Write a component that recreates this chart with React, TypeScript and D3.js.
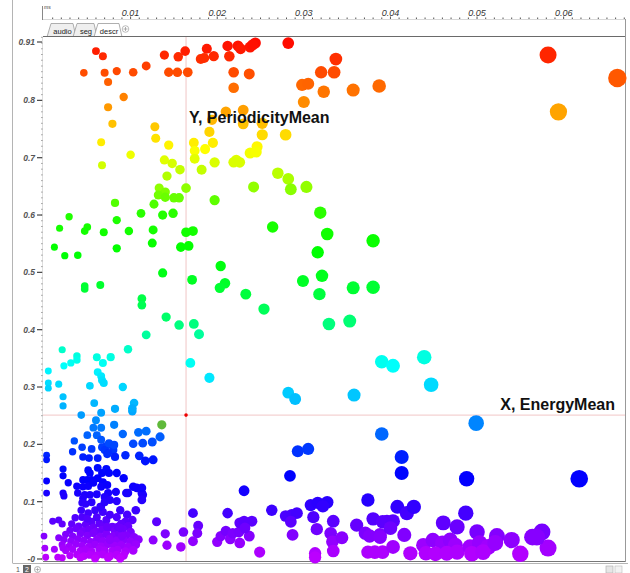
import React, { useRef, useEffect } from 'react';
import * as d3 from 'd3';

type Pt = [number, number];

// x = EnergyMean, y = PeriodicityMean
const redPoints: Pt[] = [
  [0.0060, 0.886], [0.0068, 0.877], [0.0046, 0.848], [0.0070, 0.848], [0.0084, 0.851], [0.0074, 0.832],
  [0.0074, 0.788], [0.0092, 0.806], [0.0079, 0.759], [0.0103, 0.849], [0.0118, 0.860],
  [0.0139, 0.879], [0.0155, 0.876], [0.0163, 0.886], [0.0144, 0.849], [0.0154, 0.849], [0.0166, 0.849],
  [0.0181, 0.872], [0.0188, 0.890], [0.0196, 0.877], [0.0185, 0.874],
  [0.0212, 0.895], [0.0214, 0.877], [0.0224, 0.895], [0.0227, 0.890], [0.0238, 0.893], [0.0244, 0.900],
  [0.0241, 0.897], [0.0282, 0.900], [0.0219, 0.849], [0.0237, 0.846], [0.0219, 0.822],
  [0.0337, 0.872], [0.0320, 0.849], [0.0335, 0.849], [0.0298, 0.827], [0.0305, 0.829], [0.0323, 0.815],
  [0.0357, 0.818], [0.0387, 0.825], [0.0300, 0.797],
  [0.0582, 0.879], [0.0662, 0.839], [0.0594, 0.780],
  [0.0210, 0.780], [0.0230, 0.783], [0.0230, 0.759], [0.0252, 0.760], [0.0194, 0.766],
];

const yellowPoints: Pt[] = [
  [0.0252, 0.740], [0.0279, 0.740], [0.0191, 0.745], [0.0128, 0.754], [0.0129, 0.734], [0.0144, 0.722],
  [0.0173, 0.726], [0.0186, 0.715], [0.0195, 0.726], [0.0174, 0.712], [0.0174, 0.698], [0.0246, 0.719],
  [0.0238, 0.708], [0.0245, 0.710], [0.0222, 0.696], [0.0226, 0.692], [0.0219, 0.692], [0.0100, 0.705],
  [0.0066, 0.727], [0.0067, 0.687], [0.0139, 0.696], [0.0148, 0.690], [0.0197, 0.692], [0.0157, 0.679],
  [0.0182, 0.679], [0.0142, 0.668], [0.0270, 0.673], [0.0282, 0.663], [0.0285, 0.645], [0.0303, 0.649],
  [0.0242, 0.649], [0.0133, 0.647], [0.0140, 0.640], [0.0132, 0.635], [0.0140, 0.631], [0.0150, 0.630],
  [0.0156, 0.630], [0.0164, 0.647], [0.0197, 0.626], [0.0082, 0.621], [0.0127, 0.619],
];

const greenPoints: Pt[] = [
  [0.0029, 0.597], [0.0018, 0.577], [0.0050, 0.579], [0.0047, 0.572], [0.0084, 0.591], [0.0069, 0.570],
  [0.0012, 0.544], [0.0024, 0.529], [0.0039, 0.530], [0.0084, 0.542], [0.0047, 0.476], [0.0047, 0.471],
  [0.0065, 0.478], [0.0137, 0.600], [0.0149, 0.603], [0.0126, 0.574], [0.0164, 0.570], [0.0172, 0.572],
  [0.0125, 0.551], [0.0158, 0.544], [0.0167, 0.546], [0.0264, 0.579], [0.0319, 0.604], [0.0327, 0.567],
  [0.0316, 0.535], [0.0380, 0.555], [0.0137, 0.499], [0.0204, 0.511], [0.0171, 0.487], [0.0209, 0.481],
  [0.0203, 0.473], [0.0299, 0.485], [0.0321, 0.494], [0.0318, 0.462], [0.0357, 0.473], [0.0380, 0.474],
  [0.0233, 0.462], [0.0254, 0.436], [0.0113, 0.454], [0.0113, 0.443], [0.0141, 0.422], [0.0156, 0.408],
  [0.0173, 0.410], [0.0179, 0.392], [0.0118, 0.391], [0.0329, 0.410], [0.0353, 0.415], [0.0112, 0.603],
  [0.0098, 0.572],
];

const cyanPoints: Pt[] = [
  [0.0021, 0.365], [0.0005, 0.328], [0.0023, 0.337], [0.0031, 0.342], [0.0038, 0.354], [0.0038, 0.347],
  [0.0061, 0.352], [0.0068, 0.342], [0.0077, 0.352], [0.0062, 0.326], [0.0066, 0.319], [0.0067, 0.312],
  [0.0069, 0.307], [0.0005, 0.307], [0.0005, 0.298], [0.0017, 0.305], [0.0053, 0.302], [0.0022, 0.283],
  [0.0022, 0.267], [0.0058, 0.272], [0.0091, 0.300], [0.0097, 0.366], [0.0390, 0.344], [0.0403, 0.337],
  [0.0439, 0.352], [0.0447, 0.304], [0.0282, 0.290], [0.0290, 0.279], [0.0358, 0.286], [0.0169, 0.342],
  [0.0191, 0.316], [0.0104, 0.272], [0.0102, 0.263], [0.0082, 0.262],
];

const bluePoints: Pt[] = [
  [0.0043, 0.251], [0.0060, 0.242], [0.0057, 0.229], [0.0066, 0.229], [0.0066, 0.255], [0.0081, 0.234],
  [0.0102, 0.258], [0.0050, 0.216], [0.0061, 0.216], [0.0066, 0.208], [0.0072, 0.197], [0.0035, 0.206],
  [0.0033, 0.187], [0.0044, 0.195], [0.0055, 0.192], [0.0045, 0.178], [0.0052, 0.176], [0.0062, 0.176],
  [0.0067, 0.195], [0.0070, 0.190], [0.0073, 0.183], [0.0080, 0.190], [0.0082, 0.178], [0.0094, 0.181],
  [0.0110, 0.180], [0.0117, 0.171], [0.0126, 0.173], [0.0075, 0.202], [0.0081, 0.199], [0.0091, 0.218],
  [0.0109, 0.221], [0.0118, 0.223], [0.0134, 0.213], [0.0125, 0.204], [0.0103, 0.201], [0.0114, 0.202],
  [0.0003, 0.181], [0.0003, 0.173], [0.0074, 0.185], [0.0390, 0.218], [0.0499, 0.237], [0.0293, 0.188],
  [0.0305, 0.192], [0.0413, 0.178], [0.0413, 0.150], [0.0284, 0.145], [0.0488, 0.140], [0.0618, 0.140],
];

const indigoPoints: Pt[] = [
  [0.0022, 0.157], [0.0022, 0.145], [0.0003, 0.136], [0.0003, 0.115], [0.0028, 0.133], [0.0022, 0.115],
  [0.0023, 0.110], [0.0051, 0.155], [0.0053, 0.150], [0.0062, 0.159], [0.0067, 0.150], [0.0072, 0.157],
  [0.0075, 0.150], [0.0084, 0.150], [0.0092, 0.141], [0.0045, 0.138], [0.0050, 0.138], [0.0055, 0.138],
  [0.0062, 0.141], [0.0068, 0.134], [0.0038, 0.127], [0.0045, 0.126], [0.0051, 0.127], [0.0057, 0.133],
  [0.0066, 0.126], [0.0073, 0.129], [0.0083, 0.117], [0.0095, 0.115], [0.0039, 0.115], [0.0047, 0.112],
  [0.0053, 0.112], [0.0061, 0.113], [0.0074, 0.115], [0.0070, 0.108], [0.0103, 0.126], [0.0107, 0.124],
  [0.0113, 0.115], [0.0114, 0.112], [0.0113, 0.124], [0.0113, 0.103], [0.0045, 0.106], [0.0044, 0.098],
  [0.0048, 0.096], [0.0055, 0.099], [0.0065, 0.091], [0.0070, 0.099], [0.0076, 0.103], [0.0084, 0.101],
  [0.0097, 0.115], [0.0231, 0.119], [0.0374, 0.103], [0.0308, 0.094], [0.0316, 0.098], [0.0327, 0.099],
  [0.0322, 0.092], [0.0408, 0.091], [0.0419, 0.080], [0.0427, 0.091], [0.0487, 0.080], [0.0263, 0.085],
];

const violetPoints: Pt[] = [
  [0.0043, 0.085], [0.0051, 0.080], [0.0059, 0.085], [0.0066, 0.091], [0.0068, 0.082], [0.0044, 0.073],
  [0.0050, 0.070], [0.0061, 0.073], [0.0072, 0.068], [0.0076, 0.077], [0.0084, 0.073], [0.0085, 0.056],
  [0.0010, 0.066], [0.0017, 0.068], [0.0021, 0.061], [0.0130, 0.065], [0.0140, 0.044], [0.0126, 0.033],
  [0.0142, 0.024], [0.0158, 0.021], [0.0161, 0.047], [0.0172, 0.080], [0.0178, 0.058], [0.0177, 0.045],
  [0.0172, 0.031], [0.0212, 0.080], [0.0200, 0.030], [0.0204, 0.040], [0.0210, 0.049], [0.0215, 0.035],
  [0.0218, 0.045], [0.0226, 0.028], [0.0225, 0.047], [0.0226, 0.063], [0.0231, 0.066], [0.0237, 0.040],
  [0.0240, 0.066], [0.0232, 0.054], [0.0249, 0.012], [0.0279, 0.075], [0.0286, 0.077], [0.0292, 0.080],
  [0.0285, 0.065], [0.0287, 0.042], [0.0311, 0.073], [0.0315, 0.052], [0.0331, 0.045], [0.0334, 0.066],
  [0.0333, 0.030], [0.0344, 0.037], [0.0334, 0.014], [0.0313, 0.010], [0.0313, 0.003], [0.0361, 0.059],
  [0.0371, 0.045], [0.0380, 0.070], [0.0376, 0.040], [0.0391, 0.065], [0.0388, 0.042], [0.0374, 0.012],
  [0.0382, 0.012], [0.0391, 0.012], [0.0396, 0.065], [0.0403, 0.066], [0.0400, 0.054], [0.0416, 0.042],
  [0.0403, 0.021], [0.0423, 0.010], [0.0438, 0.024], [0.0449, 0.033], [0.0460, 0.028], [0.0469, 0.033],
  [0.0475, 0.024], [0.0441, 0.010], [0.0452, 0.009], [0.0465, 0.010], [0.0477, 0.012], [0.0461, 0.063],
  [0.0477, 0.056], [0.0500, 0.047], [0.0523, 0.040], [0.0540, 0.033], [0.0564, 0.038], [0.0575, 0.047],
  [0.0582, 0.019], [0.0492, 0.021], [0.0503, 0.028], [0.0513, 0.021], [0.0494, 0.009], [0.0507, 0.012],
  [0.0521, 0.028], [0.0550, 0.009], [0.0569, 0.038], [0.0388, 0.038],
  [0.0090, 0.040], [0.0076, 0.033], [0.0088, 0.054], [0.0073, 0.056],
  [0.0000, 0.040], [0.0017, 0.037], [0.0001, 0.019], [0.0012, 0.017], [0.0002, 0.003], [0.0016, 0.003],
  [0.0021, 0.002], [0.0022, 0.019],
];

// the dense cloud near the origin
const magentaPoints: Pt[] = [
  [0.0088, 0.085], [0.0096, 0.077], [0.0102, 0.068], [0.0094, 0.065], [0.0055, 0.065], [0.0036, 0.072], [0.0106, 0.085],
  [0.0032, 0.061], [0.0040, 0.057], [0.0048, 0.060], [0.0057, 0.055], [0.0064, 0.062], [0.0069, 0.058], [0.0079, 0.056], [0.0089, 0.061], [0.0097, 0.057],
  [0.0030, 0.050], [0.0037, 0.053], [0.0045, 0.049], [0.0052, 0.052], [0.0060, 0.048], [0.0067, 0.051], [0.0074, 0.054], [0.0082, 0.049], [0.0091, 0.052], [0.0100, 0.047],
  [0.0025, 0.043], [0.0033, 0.040], [0.0042, 0.044], [0.0050, 0.041], [0.0057, 0.045], [0.0065, 0.039], [0.0072, 0.043], [0.0080, 0.040], [0.0087, 0.044], [0.0095, 0.041], [0.0104, 0.038],
  [0.0023, 0.034], [0.0031, 0.031], [0.0039, 0.035], [0.0046, 0.032], [0.0054, 0.030], [0.0061, 0.034], [0.0068, 0.031], [0.0076, 0.035], [0.0084, 0.032], [0.0092, 0.033], [0.0100, 0.030], [0.0109, 0.034],
  [0.0021, 0.025], [0.0029, 0.022], [0.0037, 0.026], [0.0044, 0.023], [0.0052, 0.021], [0.0059, 0.025], [0.0066, 0.022], [0.0074, 0.026], [0.0081, 0.023], [0.0089, 0.024], [0.0097, 0.021], [0.0106, 0.025],
  [0.0025, 0.015], [0.0033, 0.017], [0.0042, 0.014], [0.0048, 0.016], [0.0055, 0.013], [0.0064, 0.017], [0.0070, 0.015], [0.0079, 0.014], [0.0085, 0.016], [0.0094, 0.013], [0.0103, 0.015],
  [0.0030, 0.006], [0.0038, 0.008], [0.0046, 0.005], [0.0053, 0.007], [0.0061, 0.006], [0.0068, 0.008], [0.0076, 0.005], [0.0084, 0.007], [0.0092, 0.006],
  [0.0042, 0.002], [0.0059, 0.001], [0.0074, 0.002], [0.0088, 0.001],
];

const oddPoints: Pt[] = [[0.0136, 0.234]];
const oddColor = '#5fb93a';

const xTicks = [0.01, 0.02, 0.03, 0.04, 0.05, 0.06];
const yTicks = [0, 0.1, 0.2, 0.3, 0.4, 0.5, 0.6, 0.7, 0.8, 0.91];
const yTickLabels = ['-0', '0.1', '0.2', '0.3', '0.4', '0.5', '0.6', '0.7', '0.8', '0.91'];
const tabs = ['audio', 'seg', 'descr'];
const pages = ['1', '2'];
const cursor: Pt = [0.0164, 0.251];
const xTitle = 'X, EnergyMean';
const yTitle = 'Y, PeriodicityMean';

// colour ramp: periodicity -> hue
const hueStops = [0, 0.04, 0.09, 0.13, 0.17, 0.22, 0.26, 0.33, 0.42, 0.5, 0.6, 0.65, 0.72, 0.8, 0.91];
const hueValues = [285, 271, 252, 242, 236, 215, 200, 182, 145, 125, 112, 85, 58, 32, 0];

export default function App() {
  const d3svg = useRef<SVGSVGElement>(null);
  const W = 630, H = 573;

  useEffect(() => {
    const svg = d3.select(d3svg.current);
    svg.selectAll('*').remove();

    const left = 43, right = 625, top = 37, bottom = 561;
    const x = d3.scaleLinear().domain([0, 0.0672]).range([44, 626]);
    const y = d3.scaleLinear().domain([0, 0.91]).range([559, 37.3]);
    const r = d3.scaleLinear().domain([0, 0.066]).range([3.4, 9.2]);
    const hue = d3.scaleLinear().domain(hueStops).range(hueValues).clamp(true);
    const font = "'Liberation Sans', Arial, sans-serif";

    // outer frame
    svg.append('line').attr('x1', 12.5).attr('x2', 12.5).attr('y1', 0).attr('y2', 563).attr('stroke', '#b4b4b4');
    svg.append('line').attr('x1', 12.5).attr('x2', 628).attr('y1', 563.5).attr('y2', 563.5).attr('stroke', '#b4b4b4');

    // ruler
    const ruler = svg.append('g');
    ruler.append('line').attr('x1', 42.5).attr('x2', 42.5).attr('y1', 6).attr('y2', 20).attr('stroke', '#888');
    ruler.append('line').attr('x1', 43).attr('x2', 626).attr('y1', 19.5).attr('y2', 19.5).attr('stroke', '#d8d8d8');
    ruler.append('text').attr('x', 44).attr('y', 9).text('ms')
      .attr('font-size', 5).attr('font-style', 'italic').attr('font-family', font).attr('fill', '#333');
    ruler.selectAll('rect.minor').data(d3.range(1, 68)).join('rect')
      .attr('x', d => x(d / 1000) - 0.5).attr('y', d => (d % 10 === 0 ? 16.5 : 17.5))
      .attr('width', 1).attr('height', d => (d % 10 === 0 ? 2.5 : 1.5)).attr('fill', '#555');
    ruler.selectAll('text.tick').data(xTicks).join('text')
      .attr('x', d => x(d)).attr('y', 15.5).attr('text-anchor', 'middle')
      .attr('font-size', 9).attr('font-style', 'italic').attr('font-family', font).attr('fill', '#333')
      .text(d => d3.format('.2f')(d));

    // tab bar
    const tabX = [47, 73, 94];
    const tabW = [28, 23, 27];
    const tg = svg.append('g');
    tabs.forEach((t, i) => {
      const x0 = tabX[i], x1 = x0 + tabW[i];
      const active = t === 'descr';
      tg.append('path')
        .attr('d', `M${x0},37 L${x0 + 4},23.5 L${x1 - 2},23.5 L${x1 + 1},37`)
        .attr('fill', active ? '#fff' : '#efefef').attr('stroke', '#9a9a9a').attr('stroke-width', 0.8);
      tg.append('text').attr('x', (x0 + x1) / 2 + 1.5).attr('y', 33.5).attr('text-anchor', 'middle')
        .attr('font-size', 7.5).attr('font-family', font).attr('fill', '#222').text(t);
    });
    tg.append('circle').attr('cx', 125.5).attr('cy', 29).attr('r', 3.3).attr('fill', '#fff').attr('stroke', '#aaa').attr('stroke-width', 0.8);
    tg.append('path').attr('d', 'M123.5,29 H127.5 M125.5,27 V31').attr('stroke', '#999').attr('stroke-width', 0.8);

    // plot frame
    svg.append('line').attr('x1', left).attr('x2', right).attr('y1', top - 0.5).attr('y2', top - 0.5).attr('stroke', '#6a6a6a').attr('stroke-width', 1.2);
    svg.append('line').attr('x1', right + 0.5).attr('x2', right + 0.5).attr('y1', 19).attr('y2', bottom + 1).attr('stroke', '#999');
    svg.append('line').attr('x1', left).attr('x2', right).attr('y1', bottom + 0.5).attr('y2', bottom + 0.5).attr('stroke', '#777');

    // y axis
    const ya = svg.append('g');
    ya.selectAll('rect.dot').data(d3.range(0, 92)).join('rect')
      .attr('x', 41.5).attr('y', d => y(d / 100) - 0.5).attr('width', 1).attr('height', 1).attr('fill', '#555');
    ya.append('line').attr('x1', 42.5).attr('x2', 42.5).attr('y1', top).attr('y2', bottom).attr('stroke', '#bbb').attr('stroke-width', 0.5);
    const ty = (v: number) => Math.max(y(v), 42);
    ya.selectAll('line.tick').data(yTicks).join('line')
      .attr('x1', 37).attr('x2', 42).attr('y1', d => ty(d)).attr('y2', d => ty(d)).attr('stroke', '#444').attr('stroke-width', 1.2);
    ya.selectAll('text.tick').data(yTicks).join('text')
      .attr('x', 35).attr('y', d => ty(d) + 3).attr('text-anchor', 'end')
      .attr('font-size', 8.5).attr('font-style', 'italic').attr('font-weight', 'bold').attr('font-family', font).attr('fill', '#555')
      .text((d, i) => yTickLabels[i]);

    // cursor cross
    svg.append('line').attr('x1', x(cursor[0])).attr('x2', x(cursor[0])).attr('y1', top).attr('y2', bottom)
      .attr('stroke', '#f1c6c6').attr('stroke-width', 1);
    svg.append('line').attr('x1', left).attr('x2', right).attr('y1', y(cursor[1])).attr('y2', y(cursor[1]))
      .attr('stroke', '#f1c6c6').attr('stroke-width', 1);

    // points
    const all = [
      ...magentaPoints, ...violetPoints, ...indigoPoints, ...bluePoints,
      ...cyanPoints, ...greenPoints, ...yellowPoints, ...redPoints,
    ];
    svg.append('g').selectAll('circle').data(all).join('circle')
      .attr('cx', d => x(d[0])).attr('cy', d => y(d[1])).attr('r', d => r(d[0]))
      .attr('fill', d => d3.hsl(hue(d[1]), 1, 0.5).toString());
    svg.append('g').selectAll('circle').data(oddPoints).join('circle')
      .attr('cx', d => x(d[0])).attr('cy', d => y(d[1])).attr('r', d => r(d[0]))
      .attr('fill', oddColor);

    svg.append('circle').attr('cx', x(cursor[0])).attr('cy', y(cursor[1])).attr('r', 1.8).attr('fill', '#e00');

    // axis titles
    svg.append('text').attr('x', x(cursor[0]) + 3).attr('y', 123)
      .attr('font-size', 16).attr('font-weight', 'bold').attr('font-family', font).attr('fill', '#111').text(yTitle);
    svg.append('text').attr('x', 615).attr('y', y(cursor[1]) - 5).attr('text-anchor', 'end')
      .attr('font-size', 16).attr('font-weight', 'bold').attr('font-family', font).attr('fill', '#111').text(xTitle);

    // bottom page tabs
    const bg = svg.append('g');
    pages.forEach((p, i) => {
      const px = 15 + i * 9;
      if (i === 1) bg.append('rect').attr('x', px - 1).attr('y', 565).attr('width', 8).attr('height', 8).attr('fill', '#666');
      bg.append('text').attr('x', px + 3).attr('y', 571.5).attr('text-anchor', 'middle')
        .attr('font-size', 7).attr('font-family', font).attr('fill', i === 1 ? '#fff' : '#555').text(p);
    });
    bg.append('circle').attr('cx', 37.5).attr('cy', 569.5).attr('r', 3).attr('fill', '#fff').attr('stroke', '#999').attr('stroke-width', 0.8);
    bg.append('path').attr('d', 'M35.5,569.5 H39.5 M37.5,567.5 V571.5').attr('stroke', '#999').attr('stroke-width', 0.7);
    bg.append('rect').attr('x', 606).attr('y', 566).attr('width', 7).attr('height', 7).attr('fill', '#e6e6e6').attr('stroke', '#aaa').attr('stroke-width', 0.6);
    bg.append('rect').attr('x', 615).attr('y', 566).attr('width', 7).attr('height', 7).attr('fill', '#f2f2f2').attr('stroke', '#bbb').attr('stroke-width', 0.6);
  }, []);

  return (
    <svg ref={d3svg} width={W} height={H}
      style={{ position: 'absolute', left: 0, top: 0, background: '#fff', display: 'block' }} />
  );
}
